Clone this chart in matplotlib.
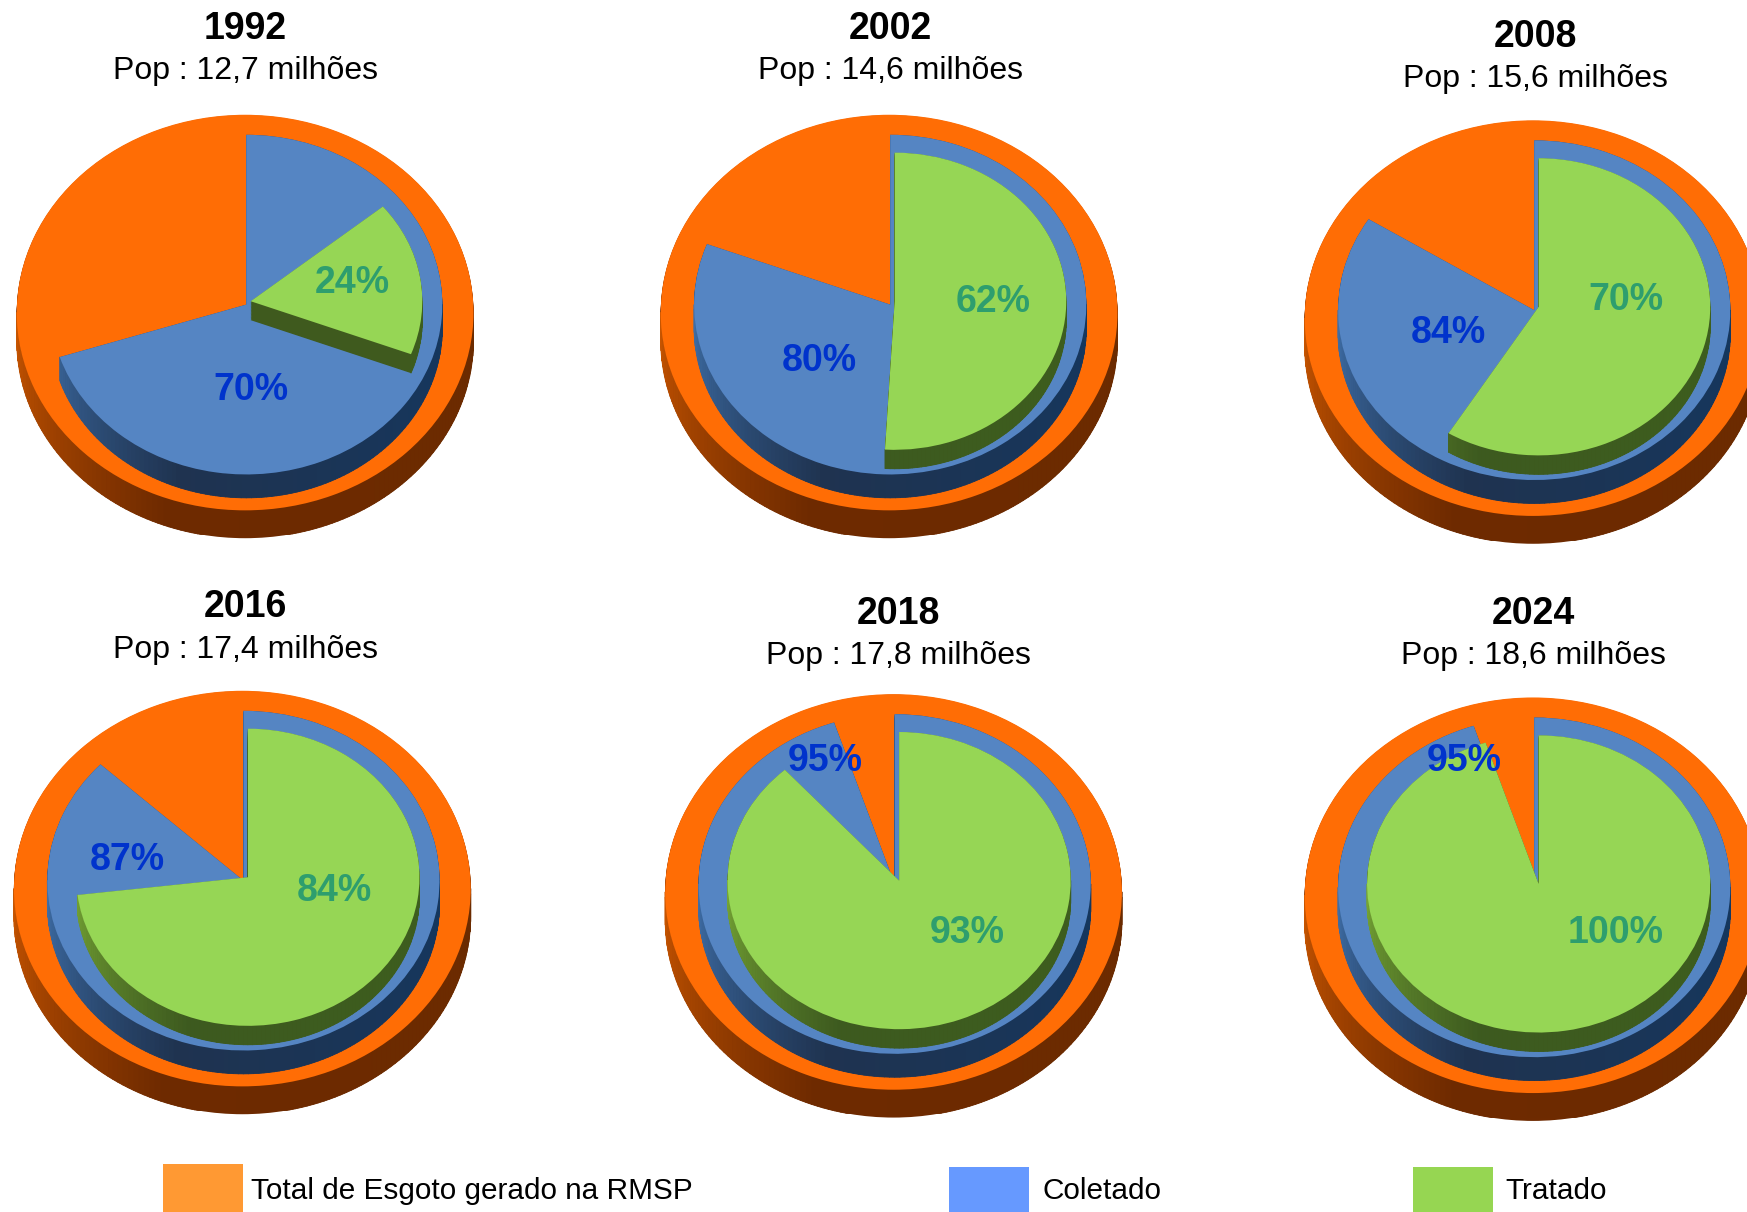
import numpy as np
import matplotlib
matplotlib.use("Agg")
import matplotlib.pyplot as plt
from matplotlib.collections import PolyCollection
from matplotlib.colors import to_rgb
from matplotlib.patches import Rectangle

plt.rcParams['font.family'] = ['Liberation Sans', 'DejaVu Sans']

# ---- data ----
years = ['1992', '2002', '2008', '2016', '2018', '2024']
populations = ['12,7', '14,6', '15,6', '17,4', '17,8', '18,6']
collected = [70, 80, 84, 87, 95, 95]      # printed: % of total sewage collected
treated = [24, 62, 70, 84, 93, 100]       # printed: % of collected sewage treated
collected_share = [70, 80.8, 84, 87, 95, 95]          # drawn slice, % of the circle
treated_share = [16.8, 50.9, 58.8, 73.1, 88.4, 95]    # drawn slice, % of the circle
treated_start = [14.0, 0, 0, 0, 0, 0]     # where the treated slice begins, % of the circle
legend_labels = ['Total de Esgoto gerado na RMSP', 'Coletado', 'Tratado']

# ---- layout (in the 1568-wide frame) ----
W, H = 1747, 1212
S = W / 1568
K = 0.866
pie_cx = [220, 798, 1376, 217.5, 802, 1376]
pie_top = [103, 103, 108, 620, 623, 626]
title_xy = [(220, 26), (799, 26), (1378, 33), (220, 545), (806, 551), (1376, 551)]
pop_xy = [(220, 64), (799, 64), (1378, 71), (220, 583), (806, 589), (1376, 589)]
green_lab = [(316, 254), (891, 271), (1459, 269), (300, 800), (868, 837), (1450, 837)]
blue_lab = [(225, 350), (735, 324), (1300, 299), (114, 772), (741, 683), (1314, 683)]

ORANGE = dict(r=205, dx=0, top=0, depth=25, face='#FF6D05',
              light='#C85500', dark='#6E2A00', end='#6B2B00', flat='#6E2A00')
BLUE = dict(r=176, dx=1, top=18, depth=21, face='#5585C3',
            light='#3F6FA8', dark='#1F3350', end='#14375F', flat='#2A4A78')
GREEN = dict(r=154, dx=5, top=34, depth=17, face='#96D655',
             light='#76A535', dark='#3D5A1F', end='#3D5E1E', flat='#3F5A1E')

fig = plt.figure(figsize=(W / 100, H / 100), dpi=100, facecolor='white')


def fx(x):
    return x * S / W


def fy(y):
    return 1 - y * S / H


def side_color(style, ang):
    c0, c1, c2 = (np.array(to_rgb(style[k])) for k in ('light', 'dark', 'end'))
    if ang >= 200:
        t = (270 - ang) / 70
        return c0 + (c1 - c0) * t
    t = (200 - ang) / 110
    return c1 + (c2 - c1) * t


def layer(ax, style, start, sweep):
    """One extruded disc slice; start and sweep are % of the circle, clockwise from 12 o'clock."""
    r = style['r']
    x0 = style['dx']
    y0 = -(style['top'] + style['r'] * K - 178) / K   # shift relative to the outer disc centre
    vals = [start, sweep, max(100 - start - sweep, 0)]
    wp = dict(linewidth=0, antialiased=True)
    steps = np.arange(style['depth'], 0, -0.7)
    for d in steps:
        ax.pie(vals, radius=r, center=(x0, y0 - d / K), startangle=90, counterclock=False,
               colors=['none', style['flat'], 'none'], wedgeprops=wp)
    # shaded rim along the lower arc
    a0, a1 = start * 3.6, (start + sweep) * 3.6
    lo, hi = max(a0, 90), min(a1, 270)
    if hi > lo:
        edges = np.arange(lo, hi + 1.5, 1.5)
        edges[-1] = hi
        polys, cols = [], []
        for a, b in zip(edges[:-1], edges[1:]):
            ra, rb = np.radians(a), np.radians(b)
            xa, ya = x0 + r * np.sin(ra), y0 + r * np.cos(ra)
            xb, yb = x0 + r * np.sin(rb), y0 + r * np.cos(rb)
            dd = style['depth'] / K
            polys.append([(xa, ya), (xb, yb), (xb, yb - dd), (xa, ya - dd)])
            cols.append(side_color(style, (a + b) / 2))
        ax.add_collection(PolyCollection(polys, facecolors=cols, edgecolors=cols, linewidths=0.6))
    ax.pie(vals, radius=r, center=(x0, y0), startangle=90, counterclock=False,
           colors=['none', style['face'], 'none'], wedgeprops=wp)


LIM = 230
for i, year in enumerate(years):
    cx, top = pie_cx[i], pie_top[i]
    cy = top + 178
    left = (cx - LIM) * S / W
    bottom = 1 - (cy + LIM * K) * S / H
    ax = fig.add_axes([left, bottom, 2 * LIM * S / W, 2 * LIM * K * S / H])
    layer(ax, ORANGE, 0, 100)
    layer(ax, BLUE, 0, collected_share[i])
    layer(ax, GREEN, treated_start[i], treated_share[i])
    ax.set_aspect('auto')
    ax.set_xlim(-LIM, LIM)
    ax.set_ylim(-LIM, LIM)
    ax.axis('off')
    ax.patch.set_alpha(0)

    fig.text(fx(title_xy[i][0]), fy(title_xy[i][1]), year, ha='center', va='center',
             fontsize=27, fontweight='bold', color='black')
    fig.text(fx(pop_xy[i][0]), fy(pop_xy[i][1]), f'Pop : {populations[i]} milhões',
             ha='center', va='center', fontsize=23, color='black')
    fig.text(fx(green_lab[i][0]), fy(green_lab[i][1]), f'{treated[i]}%', ha='center', va='center',
             fontsize=27, fontweight='bold', color='#2E9E6E')
    fig.text(fx(blue_lab[i][0]), fy(blue_lab[i][1]), f'{collected[i]}%', ha='center', va='center',
             fontsize=27, fontweight='bold', color='#0033CC')

# ---- legend ----
swatch_x = [146, 852, 1268]
swatch_top = [1045, 1048, 1048]
text_x = [225, 936, 1351]
swatch_col = ['#FF9933', '#6699FF', '#96D652']
for sx, st, tx, col, lab in zip(swatch_x, swatch_top, text_x, swatch_col, legend_labels):
    fig.add_artist(Rectangle((fx(sx), 0), 72 * S / W, (1088 - st) * S / H,
                             transform=fig.transFigure, facecolor=col, edgecolor='none'))
    fig.text(fx(tx), fy(1069), lab, ha='left', va='center', fontsize=21.4, color='black')

fig.savefig('out.png', dpi=100, facecolor='white')
